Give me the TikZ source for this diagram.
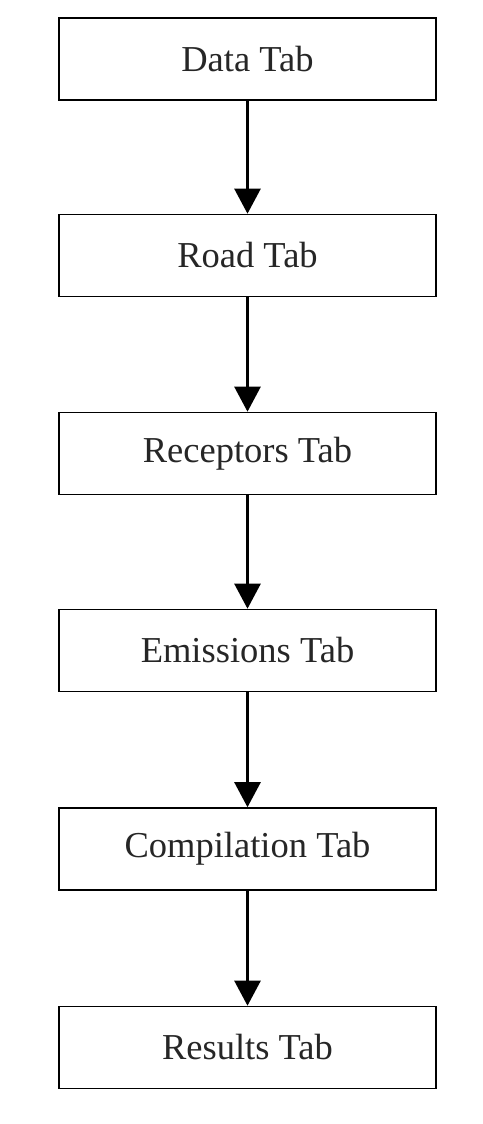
\documentclass[tikz,border=0pt]{standalone}
\usepackage{fontspec}
\setmainfont{Liberation Serif}
\usetikzlibrary{arrows.meta}
\begin{document}
\begin{tikzpicture}[x=1pt,y=-1pt,
  tabbox/.style={draw=black,line width=1.6pt,minimum width=377pt,minimum height=82pt,inner sep=0pt,font=\fontsize{36.5}{42}\selectfont,text=black!85},
  flow/.style={line width=2.6pt,-{Triangle[length=25pt,width=26pt]}}]
\useasboundingbox (0,0) rectangle (482,1124);
\node[tabbox] (a) at (247.5,59) {Data Tab};
\node[tabbox] (b) at (247.5,255.5) {Road Tab};
\node[tabbox] (c) at (247.5,453.5) {Receptors Tab};
\node[tabbox] (d) at (247.5,650.5) {Emissions Tab};
\node[tabbox] (e) at (247.5,849) {Compilation Tab};
\node[tabbox] (f) at (247.5,1047.5) {Results Tab};
\draw[flow] (a) -- (b);
\draw[flow] (b) -- (c);
\draw[flow] (c) -- (d);
\draw[flow] (d) -- (e);
\draw[flow] (e) -- (f);
\end{tikzpicture}
\end{document}
